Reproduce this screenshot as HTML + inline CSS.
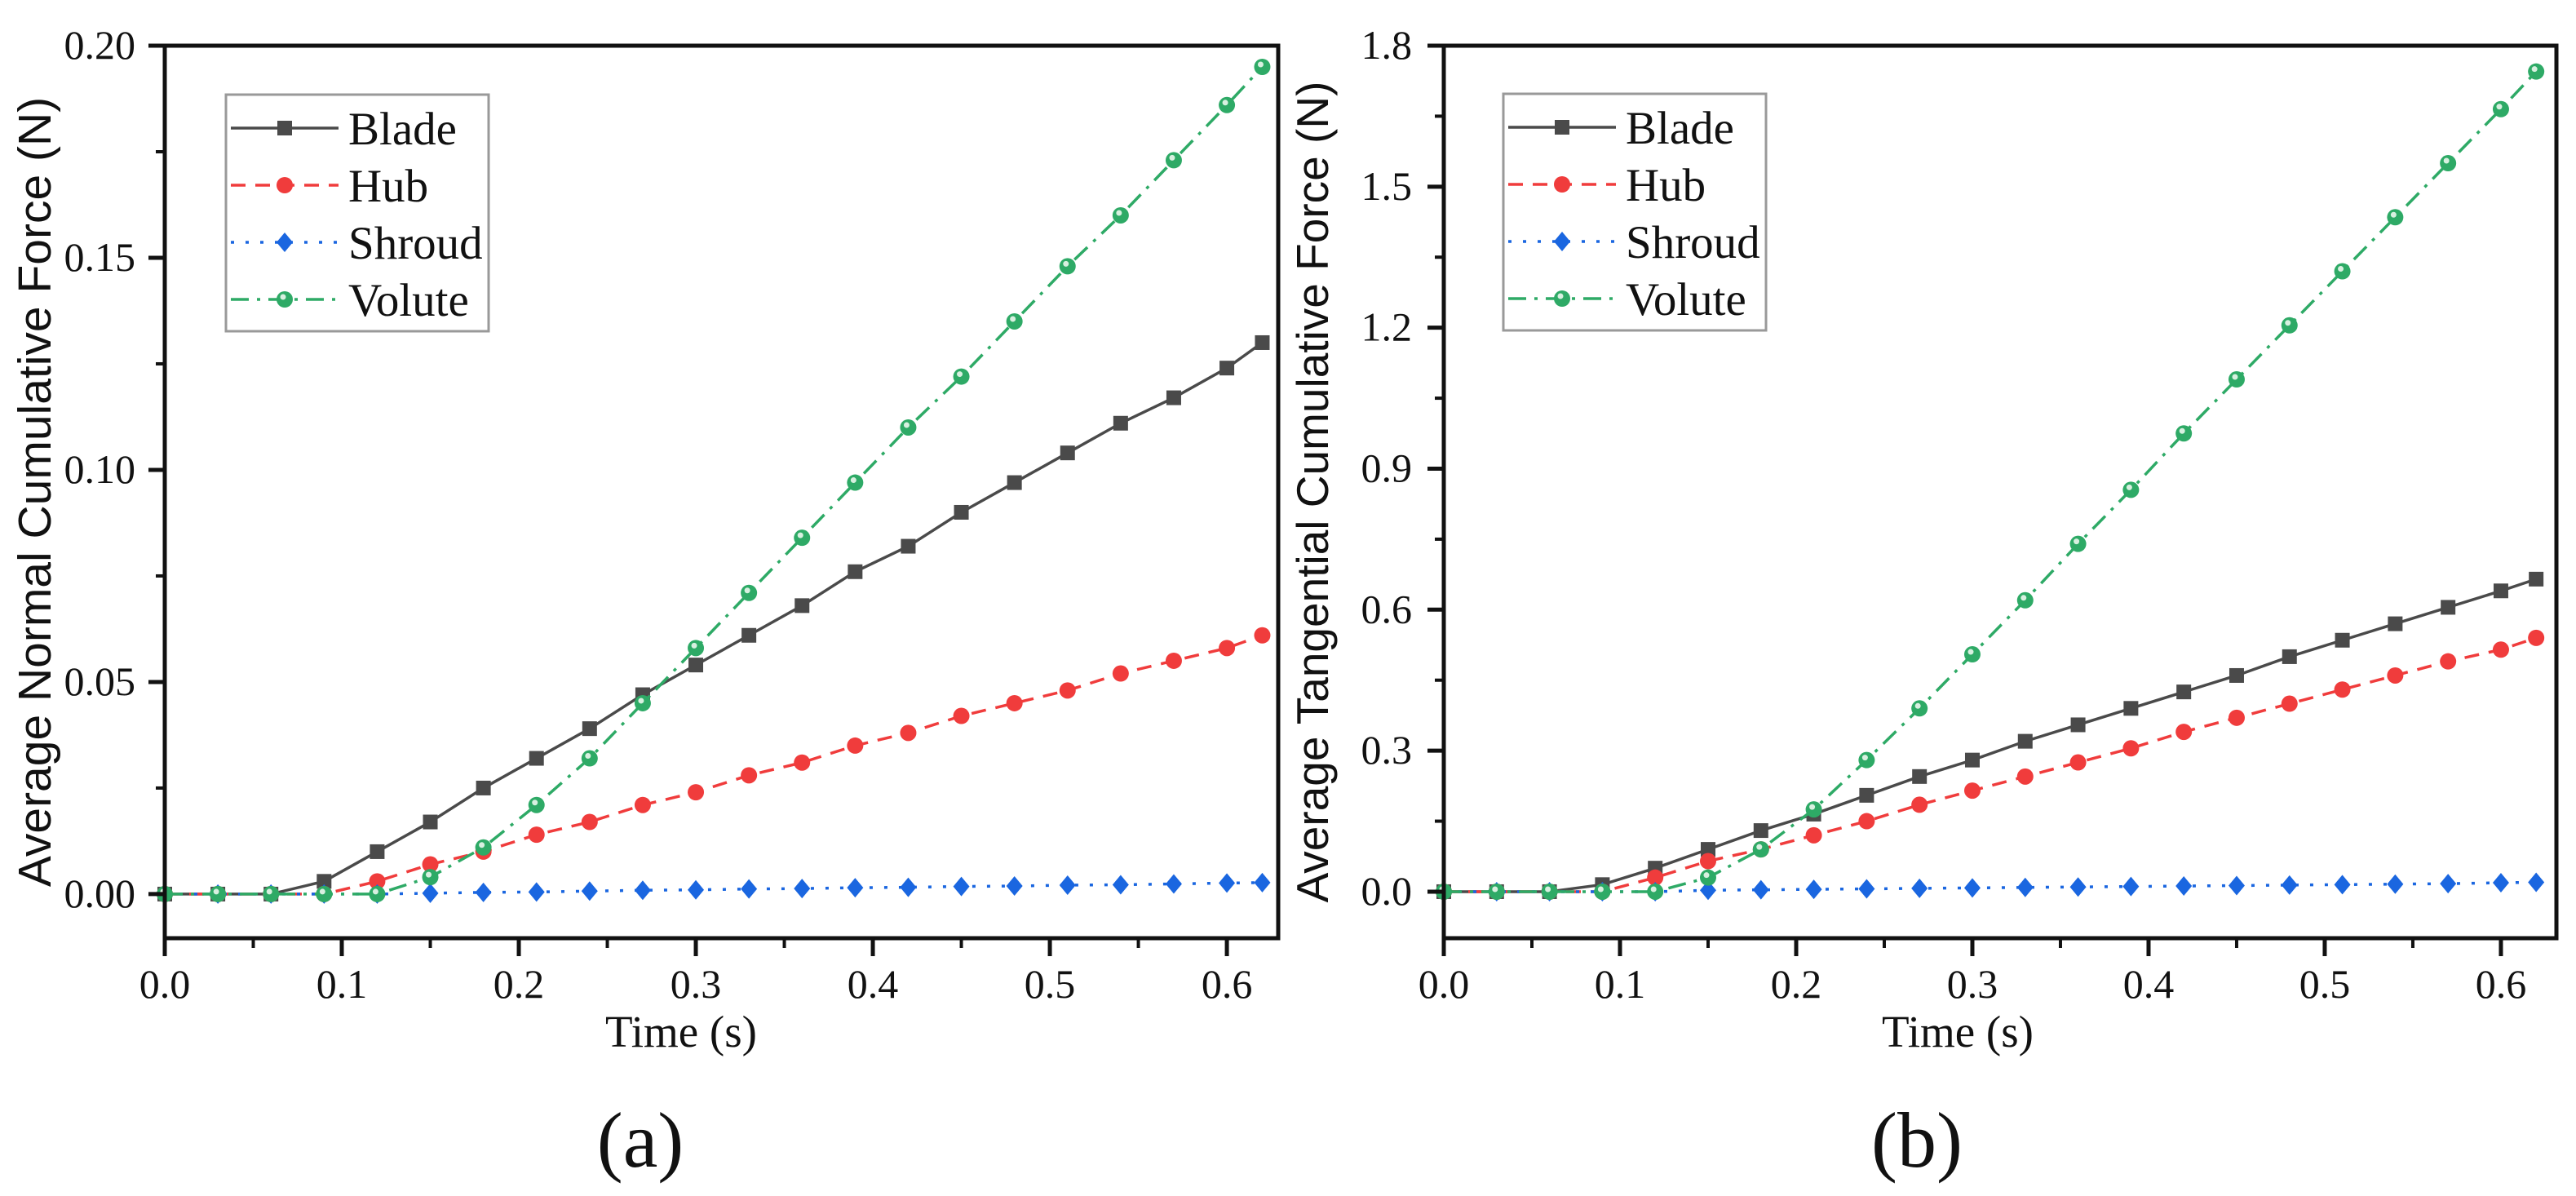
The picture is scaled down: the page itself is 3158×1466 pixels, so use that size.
<!DOCTYPE html>
<html><head><meta charset="utf-8">
<style>
html,body{margin:0;padding:0;background:#fff;}
svg{display:block;font-family:"Liberation Serif",serif;}
</style></head>
<body>
<svg id="fig" width="3158" height="1466" viewBox="0 0 3158 1466" xmlns="http://www.w3.org/2000/svg"></svg>
<script>
const times = [0,0.03,0.06,0.09,0.12,0.15,0.18,0.21,0.24,0.27,0.30,0.33,0.36,0.39,0.42,0.45,0.48,0.51,0.54,0.57,0.60,0.62];
const aBlade  = [0,0,0,0.003,0.010,0.017,0.025,0.032,0.039,0.047,0.054,0.061,0.068,0.076,0.082,0.090,0.097,0.104,0.111,0.117,0.124,0.130];
const aHub    = [0,0,0,0,0.003,0.007,0.010,0.014,0.017,0.021,0.024,0.028,0.031,0.035,0.038,0.042,0.045,0.048,0.052,0.055,0.058,0.061];
const aShroud = [0,0,0,0,0,0.0002,0.0004,0.0005,0.0007,0.0009,0.001,0.0012,0.0013,0.0015,0.0016,0.0018,0.0019,0.0021,0.0022,0.0024,0.0026,0.0027];
const aVolute = [0,0,0,0,0,0.004,0.011,0.021,0.032,0.045,0.058,0.071,0.084,0.097,0.110,0.122,0.135,0.148,0.160,0.173,0.186,0.195];
const bBlade  = [0,0,0,0.015,0.05,0.09,0.13,0.165,0.205,0.245,0.28,0.32,0.355,0.39,0.425,0.46,0.50,0.535,0.57,0.605,0.64,0.665];
const bHub    = [0,0,0,0,0.03,0.065,0.09,0.12,0.15,0.185,0.215,0.245,0.275,0.305,0.34,0.37,0.40,0.43,0.46,0.49,0.515,0.54];
const bShroud = [0,0,0,0,0,0.003,0.004,0.005,0.006,0.007,0.008,0.009,0.010,0.011,0.012,0.013,0.014,0.015,0.016,0.017,0.019,0.020];
const bVolute = [0,0,0,0,0,0.03,0.09,0.175,0.28,0.39,0.505,0.62,0.74,0.855,0.975,1.09,1.205,1.32,1.435,1.55,1.665,1.745];
const xTicks = ["0.0","0.1","0.2","0.3","0.4","0.5","0.6"];
const aYTicks = ["0.00","0.05","0.10","0.15","0.20"];
const bYTicks = ["0.0","0.3","0.6","0.9","1.2","1.5","1.8"];
const seriesNames = ["Blade","Hub","Shroud","Volute"];

const NS="http://www.w3.org/2000/svg";
const svg=document.getElementById('fig');
function mk(tag,attrs,parent){const e=document.createElementNS(NS,tag);for(const k in attrs)e.setAttribute(k,attrs[k]);(parent||svg).appendChild(e);return e;}
const styles=[
 {c:"#4a4a4a",dash:"",m:"square"},
 {c:"#f03c3c",dash:"18 12",m:"circle"},
 {c:"#1a66e0",dash:"4 14",m:"diamond"},
 {c:"#2eaa66",dash:"22 10 4 10",m:"ball"}
];
function marker(g,type,x,y,c){
  let e;
  if(type==="square"){e=mk('rect',{x:x-9,y:y-9,width:18,height:18,fill:c},g);}
  else if(type==="circle"){e=mk('circle',{cx:x,cy:y,r:10,fill:c},g);}
  else if(type==="diamond"){e=mk('polygon',{points:`${x},${y-12} ${x+10},${y} ${x},${y+12} ${x-10},${y}`,fill:c},g);}
  else {e=mk('circle',{cx:x,cy:y,r:10,fill:c},g);mk('circle',{cx:x-2,cy:y-3,r:3.5,fill:"#d8f0e0"},g);}
  return e;
}
function panel(cfg){
  const {x0,x1,yTop,yBot,ymin,ymax,xmax,yTicks,yStep,series,title,titleSize,label,lx,ly,labelX,titleX,tickRight,id}=cfg;
  const X=t=>x0+(t/xmax)*(x1-x0);
  const Y=v=>yBot-(v-ymin)/(ymax-ymin)*(yBot-yTop);
  const g=mk('g',{});
  
  
  series.forEach((vals,si)=>{
    const s=styles[si];
    const sg=mk('g',{},g);
    
    
    const pts=vals.map((v,i)=>X(times[i])+','+Y(v)).join(' ');
    mk('polyline',{points:pts,fill:'none',stroke:s.c,'stroke-width':3.5,'stroke-dasharray':s.dash},sg);
    vals.forEach((v,i)=>{const m=marker(sg,s.m,X(times[i]),Y(v),s.c);
      
      });
  });
  const fr=mk('rect',{x:x0,y:yTop,width:x1-x0,height:yBot-yTop,fill:'none',stroke:'#111','stroke-width':5},g);
  
  
  xTicks.forEach((lab,i)=>{
    const t=parseFloat(lab);const x=X(t);
    mk('line',{x1:x,y1:yBot,x2:x,y2:yBot+22,stroke:'#111','stroke-width':5},g);
    const tx=mk('text',{x:x,y:yBot+73,'font-size':50,'text-anchor':'middle',fill:'#111'},g);tx.textContent=lab;
    
    
    const xm=X(t+0.05);
    if(t+0.05<xmax) mk('line',{x1:xm,y1:yBot,x2:xm,y2:yBot+12,stroke:'#111','stroke-width':4},g);
  });
  yTicks.forEach((lab,i)=>{
    const v=parseFloat(lab);const y=Y(v);
    mk('line',{x1:x0-20,y1:y,x2:x0,y2:y,stroke:'#111','stroke-width':5},g);
    const tx=mk('text',{x:tickRight,y:y+16,'font-size':50,'text-anchor':'end',fill:'#111'},g);tx.textContent=lab;
    
    
    const ym=Y(v+yStep/2);
    if(v+yStep/2<ymax) mk('line',{x1:x0-11,y1:ym,x2:x0,y2:ym,stroke:'#111','stroke-width':4},g);
  });
  const xt=mk('text',{x:labelX,y:1283,'font-size':55,'text-anchor':'middle',fill:'#111'},g);xt.textContent="Time (s)";
  
  
  const yt=mk('text',{x:0,y:0,'font-size':titleSize,'text-anchor':'middle',fill:'#111','font-family':'"Liberation Sans",sans-serif',transform:`translate(${titleX},${(yTop+yBot)/2}) rotate(-90)`},g);yt.textContent=title;
  
  
  const pl=mk('text',{x:labelX-50,y:1430,'font-size':96,'text-anchor':'middle',fill:'#111'},g);pl.textContent=label;
  
  
  const lg=mk('g',{},g);
  
  
  mk('rect',{x:lx,y:ly,width:322,height:290,fill:'#fff',stroke:'#999','stroke-width':3},lg);
  seriesNames.forEach((n,si)=>{
    const s=styles[si];const yy=ly+41+si*70;
    const eg=mk('g',{},lg);
    
    
    mk('line',{x1:lx+6,y1:yy,x2:lx+138,y2:yy,stroke:s.c,'stroke-width':3.5,'stroke-dasharray':s.dash},eg);
    marker(eg,s.m,lx+72,yy,s.c);
    const t=mk('text',{x:lx+150,y:yy+20,'font-size':57,fill:'#111'},eg);t.textContent=n;
  });
}
panel({id:'normal',x0:202,x1:1567,yTop:56,yBot:1150,ymin:-0.0104,ymax:0.20,xmax:0.629,yTicks:aYTicks,yStep:0.05,
  series:[aBlade,aHub,aShroud,aVolute],title:"Average  Normal Cumulative Force (N)",titleSize:57,label:"(a)",lx:277,ly:116,labelX:835,titleX:62,tickRight:166});
panel({id:'tangential',x0:1770,x1:3134,yTop:56,yBot:1150,ymin:-0.099,ymax:1.8,xmax:0.6315,yTicks:bYTicks,yStep:0.3,
  series:[bBlade,bHub,bShroud,bVolute],title:"Average Tangential Cumulative Force (N)",titleSize:55,label:"(b)",lx:1843,ly:115,labelX:2400,titleX:1628,tickRight:1731});
</script>
</body></html>
